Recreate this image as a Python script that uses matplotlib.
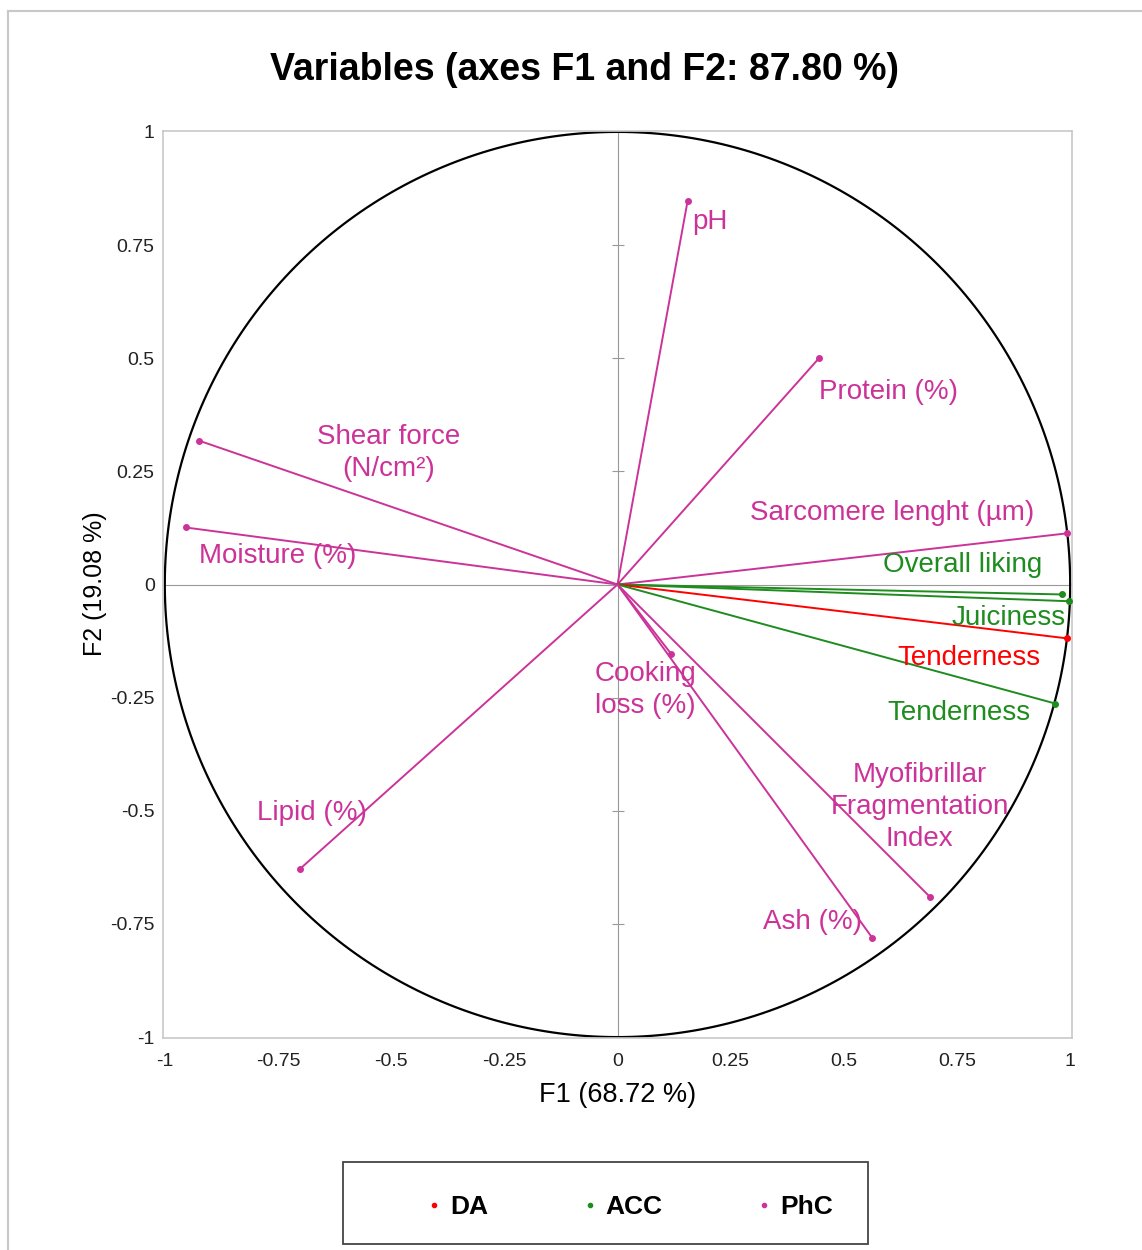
import numpy as np
import matplotlib
matplotlib.use('Agg')
import matplotlib.pyplot as plt
from matplotlib.lines import Line2D
from matplotlib.patches import Rectangle

plt.rcParams['font.family'] = ['Liberation Sans', 'DejaVu Sans']

# variable coordinates on F1 / F2
names = ['pH', 'Protein (%)', 'Shear force\n(N/cm²)', 'Moisture (%)',
         'Sarcomere lenght (µm)', 'Overall liking', 'Juiciness',
         'Tenderness', 'Tenderness', 'Cooking\nloss (%)', 'Lipid (%)',
         'Myofibrillar\nFragmentation\nIndex', 'Ash (%)']
groups = ['PhC', 'PhC', 'PhC', 'PhC', 'PhC', 'ACC', 'ACC',
          'DA', 'ACC', 'PhC', 'PhC', 'PhC', 'PhC']
f1 = [0.155, 0.446, -0.925, -0.954, 0.993, 0.982, 0.998,
      0.993, 0.967, 0.119, -0.702, 0.691, 0.563]
f2 = [0.848, 0.501, 0.318, 0.126, 0.113, -0.022, -0.037,
      -0.119, -0.263, -0.154, -0.629, -0.691, -0.781]

ticks = [-1, -0.75, -0.5, -0.25, 0, 0.25, 0.5, 0.75, 1]
tick_labels = ['-1', '-0.75', '-0.5', '-0.25', '0', '0.25', '0.5', '0.75', '1']

legend_groups = ['DA', 'ACC', 'PhC']
colors = {'DA': '#ff0000', 'ACC': '#1e8c1e', 'PhC': '#cc3399'}

# where each label sits (data units)
label_pos = [(0.205, 0.800), (0.598, 0.426), (-0.505, 0.291), (-0.750, 0.062),
             (0.607, 0.157), (0.762, 0.044), (0.865, -0.073),
             (0.777, -0.163), (0.755, -0.284), (0.062, -0.232), (-0.675, -0.505),
             (0.667, -0.492), (0.430, -0.745)]

W, H = 1142, 1250
fig = plt.figure(figsize=(W/100, H/100), dpi=100)
ax = fig.add_axes([163/W, 1-1038/H, 909/W, 907/H])
ax.set_xlim(-1.004, 1.004)
ax.set_ylim(-1.002, 1.002)

for s in ax.spines.values():
    s.set_color('#c8c8c8')
    s.set_linewidth(1.2)

ax.set_xticks(ticks)
ax.set_xticklabels(tick_labels)
ax.set_yticks(ticks)
ax.set_yticklabels(tick_labels)
ax.tick_params(length=0, labelsize=14, labelcolor='#222222')
ax.tick_params(axis='y', pad=6)
ax.tick_params(axis='x', pad=11)

# centre axes, ticks only on the vertical one
ax.axhline(0, color='#999999', lw=0.8, zorder=1)
ax.axvline(0, color='#999999', lw=0.8, zorder=1)
inner = [t for t in ticks if t not in (0, -1, 1)]
ax.plot([0]*len(inner), inner, ls='none', marker='_', ms=9, mew=0.8, color='#999999')

theta = np.linspace(0, 2*np.pi, 400)
ax.plot(np.cos(theta), np.sin(theta), color='black', lw=1.6, zorder=2)

for i in range(len(names)):
    c = colors[groups[i]]
    ax.plot([0, f1[i]], [0, f2[i]], color=c, lw=1.4, zorder=3)
    ax.plot(f1[i], f2[i], 'o', color=c, ms=4, zorder=4)
    lx, ly = label_pos[i]
    ax.text(lx, ly, names[i], color=c, fontsize=20, ha='center', va='center',
            linespacing=1.3, zorder=5)

fig.text(585/W, 1-70/H, 'Variables (axes F1 and F2: 87.80 %)', fontsize=27,
         fontweight='bold', ha='center', va='center')
fig.text(618/W, 1-1095/H, 'F1 (68.72 %)', fontsize=19.5, ha='center', va='center')
fig.text(95/W, 1-584/H, 'F2 (19.08 %)', fontsize=18, ha='center', va='center',
         rotation=90)

# legend
fig.add_artist(Rectangle((343/W, 1-1244/H), 525/W, 82/H, transform=fig.transFigure,
                         fill=False, edgecolor='#444444', lw=1.3))
handles = [Line2D([], [], ls='none', marker='o', ms=3, color=colors[g])
           for g in legend_groups]
leg = fig.legend(handles, legend_groups, loc='center', bbox_to_anchor=(630/W, 1-1207/H),
                 ncol=3, frameon=False, handlelength=0.5, handletextpad=0.35,
                 columnspacing=3.6, prop={'weight': 'bold', 'size': 19})

# outer border
fig.add_artist(Line2D([8/W, 8/W], [0, 1-11/H], transform=fig.transFigure,
                      color='#c8c8c8', lw=1.5))
fig.add_artist(Line2D([8/W, 1], [1-11/H, 1-11/H], transform=fig.transFigure,
                      color='#c8c8c8', lw=1.5))

fig.savefig('out.png', dpi=100)
